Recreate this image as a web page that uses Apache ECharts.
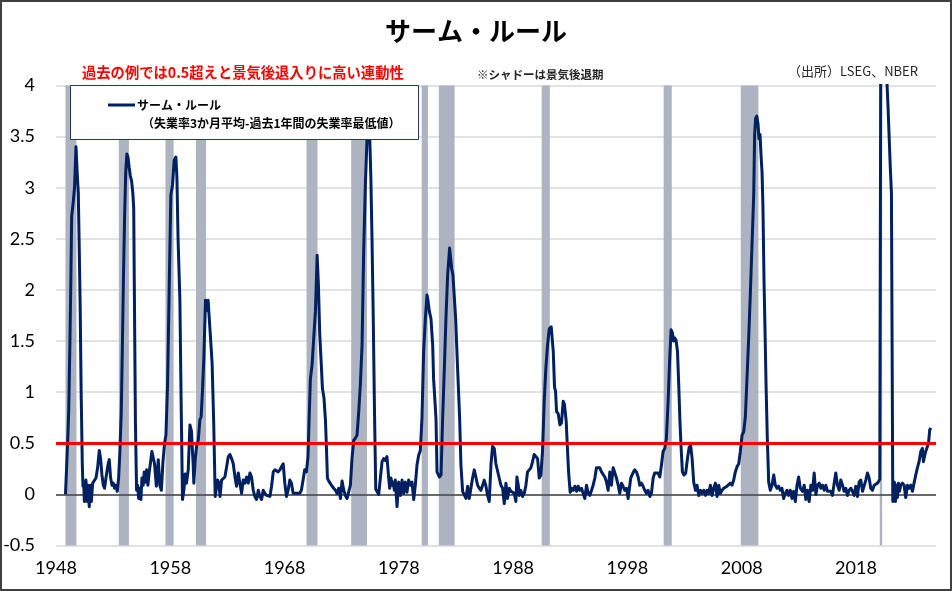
<!DOCTYPE html>
<html>
<head>
<meta charset="utf-8">
<script src="https://cdn.jsdelivr.net/npm/echarts@6/dist/echarts.min.js"></script>
<style>
html,body{margin:0;padding:0;background:#fff;}
#chart{width:952px;height:591px;}
</style>
</head>
<body>
<div id="chart"></div>
<script>
// Decimal-year dates of the readings
const dates = [
1948.83,1948.95,1949.05,1949.12,1949.22,1949.30,1949.37,1949.50,1949.62,1949.75,1949.85,1949.95,1950.05,1950.12,1950.20,1950.30,1950.36,
1950.42,1950.48,1950.56,1950.62,1950.71,1950.80,1950.91,1951.00,1951.09,1951.21,1951.35,1951.50,1951.64,1951.79,1951.90,1952.02,1952.14,1952.25,1952.37,1952.55,1952.66,1952.78,1952.90,1953.01,1953.13,1953.24,1953.36,1953.48,
1953.59,1953.71,1953.80,1953.90,1954.00,1954.10,1954.20,1954.30,1954.40,1954.50,1954.62,1954.72,1954.80,1954.87,1954.95,1955.05,
1955.14,1955.23,1955.34,1955.43,1955.52,1955.63,1955.72,1955.81,1955.93,1956.04,1956.16,1956.28,1956.39,1956.51,1956.62,1956.78,1956.95,1957.08,1957.22,1957.36,
1957.50,1957.62,1957.76,1957.91,1958.05,1958.20,1958.34,1958.49,1958.58,1958.68,1958.84,1958.95,1959.07,
1959.20,1959.30,1959.42,1959.57,1959.72,1959.85,1960.00,1960.06,1960.18,1960.30,1960.45,1960.59,1960.70,1960.82,1960.94,1961.08,1961.22,1961.31,1961.40,1961.55,1961.66,1961.80,1961.93,
1962.05,1962.14,1962.26,1962.35,1962.49,1962.64,1962.78,1962.93,1963.08,1963.22,1963.37,1963.51,1963.66,1963.80,1963.95,1964.09,1964.24,1964.38,1964.53,1964.68,1964.82,1964.97,
1965.11,1965.26,1965.40,1965.55,1965.70,1965.84,1965.99,1966.13,1966.28,1966.42,1966.57,1966.72,1966.86,1967.01,1967.15,1967.30,1967.44,1967.59,1967.73,1967.88,
1968.02,1968.17,1968.31,1968.46,1968.60,1968.75,1969.04,1969.33,1969.47,1969.62,1969.76,1969.91,
1970.05,1970.15,1970.26,1970.41,1970.55,1970.70,1970.85,1970.96,1971.08,1971.20,1971.31,1971.45,1971.58,1971.68,1971.75,
1971.87,1972.01,1972.16,1972.30,1972.45,1972.59,1972.74,1972.89,1973.03,1973.18,1973.32,1973.47,1973.61,1973.76,
1973.90,1974.05,1974.20,1974.34,1974.49,1974.63,1974.78,1974.92,1975.07,1975.22,1975.33,1975.45,1975.55,1975.65,1975.75,1975.87,1975.98,
1976.09,1976.24,1976.38,1976.53,1976.67,1976.82,1976.96,1977.11,1977.20,1977.31,1977.40,1977.49,1977.61,1977.69,1977.84,1977.98,
1978.13,1978.28,1978.42,1978.57,1978.71,1978.86,1979.00,1979.15,1979.30,1979.44,1979.59,1979.73,1979.88,
1980.02,1980.17,1980.32,1980.46,1980.52,1980.67,1980.81,1980.96,1981.04,1981.16,1981.25,1981.34,1981.54,1981.69,
1981.83,1981.98,1982.12,1982.27,1982.44,1982.62,1982.73,1982.85,1982.97,1983.08,1983.20,1983.32,1983.43,1983.58,
1983.73,1983.87,1984.02,1984.16,1984.31,1984.45,1984.60,1984.74,1984.89,1985.04,1985.18,1985.33,1985.47,1985.62,1985.76,1985.91,
1986.06,1986.20,1986.35,1986.49,1986.64,1986.78,1986.93,1987.08,1987.22,1987.37,1987.51,1987.66,1987.80,1987.95,
1988.10,1988.24,1988.33,1988.45,1988.53,1988.68,1988.82,1988.97,1989.12,1989.26,1989.41,1989.55,1989.70,1989.84,1989.99,
1990.14,1990.28,1990.43,1990.57,1990.72,1990.86,1991.01,1991.16,1991.33,1991.51,1991.62,1991.71,1991.80,1991.94,
1992.09,1992.23,1992.38,1992.49,1992.64,1992.75,1992.85,1992.99,
1993.11,1993.25,1993.40,1993.55,1993.69,1993.84,1993.98,1994.13,1994.27,1994.42,1994.57,1994.71,1994.86,
1995.00,1995.15,1995.29,1995.44,1995.58,1995.73,1995.88,1996.02,1996.17,1996.31,1996.46,1996.60,1996.75,1996.90,
1997.04,1997.19,1997.33,1997.48,1997.62,1997.77,1997.92,1998.06,1998.21,1998.29,1998.41,1998.53,1998.64,1998.79,1998.94,
1999.08,1999.23,1999.37,1999.52,1999.66,1999.81,1999.96,2000.10,2000.25,2000.39,2000.54,2000.68,2000.83,2000.98,
2001.12,2001.27,2001.41,2001.56,2001.70,2001.82,2001.94,2002.03,2002.14,2002.25,2002.38,2002.49,2002.60,2002.70,2002.81,2002.95,
2003.10,2003.25,2003.40,2003.53,2003.66,2003.80,2003.95,2004.09,2004.24,2004.39,2004.53,2004.68,2004.82,2004.97,
2005.11,2005.26,2005.41,2005.55,2005.70,2005.84,2005.99,2006.13,2006.28,2006.42,2006.57,2006.72,2006.86,
2007.01,2007.15,2007.30,2007.44,2007.59,2007.74,2007.88,2008.03,2008.17,2008.32,2008.46,2008.61,2008.76,2008.90,
2009.05,2009.13,2009.22,2009.32,2009.43,2009.51,2009.60,2009.70,2009.78,2009.86,2009.95,2010.04,2010.13,2010.24,2010.36,2010.50,
2010.65,2010.80,2010.94,2011.09,2011.23,2011.38,2011.52,2011.67,2011.82,2011.96,2012.11,2012.25,2012.40,2012.54,2012.69,2012.84,2012.98,
2013.13,2013.32,2013.47,2013.61,2013.76,2013.90,2014.05,2014.20,2014.34,2014.49,2014.63,2014.78,2014.92,
2015.07,2015.22,2015.36,2015.51,2015.65,2015.80,2015.94,2016.09,2016.23,2016.38,2016.53,2016.67,2016.82,2016.96,
2017.11,2017.25,2017.40,2017.55,2017.69,2017.84,2017.98,2018.13,2018.27,2018.42,2018.57,2018.71,2018.86,
2019.00,2019.15,2019.29,2019.44,2019.59,2019.73,2019.88,2020.00,2020.08,
2020.17,2020.25,2020.33,2020.42,2020.50,2020.58,2020.70,2020.80,2020.90,2021.00,2021.10,2021.22,
2021.36,2021.45,2021.54,2021.63,2021.71,2021.80,2021.92,2022.06,2022.21,2022.35,2022.50,2022.65,2022.79,2022.94,
2023.08,2023.23,2023.37,2023.52,2023.67,2023.81,2023.90,2024.01,2024.10,2024.19,2024.28,2024.36,2024.45,2024.54
];
// Sahm rule values (pt)
const sahm = [
0.00,0.00,0.60,0.85,1.50,2.10,2.72,2.85,3.00,3.40,3.15,2.95,2.30,1.80,1.00,0.30,0.08,
0.12,-0.07,0.09,0.14,-0.07,0.09,-0.12,0.09,-0.07,0.11,0.11,0.16,0.26,0.43,0.35,0.19,0.09,0.06,0.16,0.29,0.34,0.16,0.09,0.11,0.06,0.09,0.03,0.16,
0.42,0.80,1.40,2.10,2.70,3.15,3.33,3.30,3.20,3.12,3.06,2.95,2.80,1.80,0.70,0.04,
0.09,-0.04,0.06,-0.05,0.16,0.09,0.22,0.12,0.24,0.09,0.22,0.32,0.42,0.43,0.30,0.08,0.34,0.09,0.04,0.32,
0.50,0.58,1.07,2.05,2.93,3.03,3.27,3.30,3.10,2.50,1.90,0.90,-0.05,
0.05,0.20,0.11,0.24,0.68,0.62,0.30,0.11,0.34,0.47,0.53,0.73,0.76,1.02,1.35,1.90,1.80,1.90,1.74,1.48,1.28,0.70,-0.02,
-0.02,0.14,0.11,-0.02,0.14,0.14,0.17,0.27,0.37,0.39,0.35,0.30,0.17,0.08,0.21,0.11,0.01,0.14,0.11,0.17,0.11,0.21,
0.17,0.04,-0.02,-0.05,0.04,-0.02,-0.05,0.04,0.01,-0.01,-0.02,-0.02,0.08,0.22,0.24,0.24,0.22,0.24,0.27,0.30,
0.11,-0.02,0.04,0.14,0.11,0.01,0.01,0.01,0.04,0.14,0.24,0.22,
0.37,0.74,1.13,1.27,1.53,1.79,2.34,2.05,1.56,1.30,1.04,0.94,0.72,0.40,0.16,
0.13,0.13,0.08,0.06,0.04,0.01,0.06,-0.04,0.13,0.04,-0.01,-0.04,-0.05,0.09,
0.35,0.53,0.55,0.58,0.81,1.07,1.46,2.37,3.03,3.50,3.70,3.50,3.10,2.50,1.80,0.80,0.05,
0.05,0.00,0.16,0.32,0.35,0.33,0.37,0.16,0.06,0.16,0.09,0.12,0.04,0.14,-0.12,0.12,
-0.01,0.14,0.01,0.12,0.02,0.14,0.09,0.12,-0.05,0.09,0.29,0.38,0.43,
0.74,1.40,1.72,1.95,1.92,1.79,1.72,1.46,1.13,1.13,0.74,0.22,0.17,0.19,
0.74,1.23,1.72,2.15,2.41,2.21,2.15,2.15,1.72,1.40,1.07,0.74,0.29,0.03,
0.04,-0.04,0.08,-0.04,-0.05,0.16,0.24,0.17,0.09,0.06,0.04,0.09,0.14,0.08,-0.01,-0.07,
0.29,0.47,0.45,0.30,0.30,0.16,0.09,0.06,-0.09,0.11,-0.04,0.06,0.03,0.04,
0.01,-0.07,0.17,0.09,-0.01,0.04,-0.02,0.01,0.09,0.22,0.24,0.26,0.32,0.39,0.40,
0.35,0.16,0.19,0.42,0.91,1.23,1.46,1.62,1.64,1.40,1.05,1.01,0.81,0.79,
0.68,0.70,0.91,0.88,0.72,0.45,0.22,0.02,
0.06,0.04,0.08,0.03,0.08,0.04,0.06,0.01,-0.04,0.09,0.01,-0.01,0.04,
0.09,0.16,0.26,0.27,0.26,0.22,0.22,0.17,0.12,0.04,0.22,0.09,0.26,0.27,
0.16,0.09,0.01,0.11,0.08,0.04,0.06,-0.04,-0.05,0.16,0.19,0.22,0.24,0.22,0.17,
0.09,0.11,0.08,0.04,0.01,0.04,-0.02,0.01,0.16,0.21,0.22,0.21,0.17,0.29,
0.42,0.45,0.55,0.91,1.33,1.61,1.58,1.50,1.53,1.51,1.40,1.07,0.70,0.45,0.22,0.19,
0.21,0.35,0.46,0.48,0.35,0.12,0.04,0.09,-0.01,0.04,0.01,0.04,-0.01,0.04,
0.01,0.09,-0.01,0.06,0.11,-0.02,0.09,0.01,0.04,0.06,0.06,0.08,0.09,
0.11,0.09,0.14,0.22,0.27,0.30,0.42,0.58,0.61,0.76,1.13,1.53,1.98,2.44,
2.93,3.52,3.68,3.70,3.62,3.48,3.52,3.30,3.15,2.80,2.10,1.60,1.07,0.55,0.12,0.04,
0.09,0.19,0.09,0.06,0.08,0.04,0.06,-0.04,0.01,0.04,-0.01,0.04,-0.04,0.03,-0.07,0.09,0.17,
0.06,0.03,0.09,-0.05,0.04,-0.07,0.09,0.04,0.21,0.00,0.09,0.11,0.06,
0.09,0.04,0.09,0.03,0.04,0.03,-0.01,0.11,0.21,0.09,0.04,0.14,0.09,0.03,
0.06,-0.01,0.04,0.06,0.03,-0.01,0.08,-0.02,0.12,0.14,0.03,0.04,0.14,
0.21,0.16,0.06,0.04,0.09,0.09,0.11,0.13,0.15,
4.50,7.20,9.50,7.90,6.30,5.00,4.05,3.80,3.50,3.20,2.95,-0.07,
0.12,-0.07,0.09,-0.03,0.11,0.03,0.09,0.11,0.09,-0.03,0.09,0.06,0.09,0.03,
0.11,0.19,0.26,0.32,0.42,0.45,0.32,0.38,0.42,0.42,0.48,0.52,0.63,0.65
];
// NBER recessions (peak month start, trough month middle)
const recessionStart = [1948.83,1953.50,1957.58,1960.25,1969.92,1973.83,1980.00,1981.50,1990.50,2001.17,2007.92,2020.08];
const recessionEnd   = [1949.79,1954.38,1958.29,1961.13,1970.88,1975.21,1980.54,1982.88,1991.21,2001.88,2009.46,2020.29];
const xTickLabels = ['1948','1958','1968','1978','1988','1998','2008','2018'];
const threshold = [0.5];
const zeroLine = [0];

const pts = dates.map((d, i) => [d, sahm[i]]);
const areas = recessionStart.map((s, i) => [{xAxis: s}, {xAxis: recessionEnd[i]}]);

const chart = echarts.init(document.getElementById('chart'), null, {renderer: 'canvas'});
const JP = '"Noto Sans CJK JP", sans-serif';
const NUM = 'Lato, "Open Sans", sans-serif';

chart.setOption({
  animation: false,
  backgroundColor: '#ffffff',
  grid: {left: 56, right: 16, top: 85.5, bottom: 45.5},
  xAxis: {
    type: 'value', min: 1948, max: 2025, interval: 10,
    axisLine: {show: false}, axisTick: {show: false}, splitLine: {show: false},
    axisLabel: {
      fontFamily: NUM, fontSize: 18, color: '#000', margin: 14,
      formatter: v => xTickLabels.includes(String(v)) ? String(v) : ''
    }
  },
  yAxis: {
    type: 'value', min: -0.5, max: 4, interval: 0.5,
    axisLine: {show: false}, axisTick: {show: false},
    splitLine: {lineStyle: {color: '#d9d9d9', width: 1.5}},
    axisLabel: {fontFamily: NUM, fontSize: 18, color: '#000', margin: 21}
  },
  series: [
    {
      type: 'line', data: pts, symbol: 'none', silent: true, z: 1,
      lineStyle: {opacity: 0},
      markArea: {silent: true, z: 1, itemStyle: {color: '#aeb3c1'}, data: areas},
      markLine: {silent: true, z: 1.5, symbol: 'none', label: {show: false},
        lineStyle: {color: '#404040', width: 1.5, type: 'solid'},
        data: zeroLine.map(y => ({yAxis: y}))}
    },
    {
      name: 'サーム・ルール', type: 'line', data: pts, symbol: 'none', showSymbol: false,
      clip: true, z: 3,
      lineStyle: {color: '#002060', width: 3, join: 'round'},
      markLine: {silent: true, z: 6, symbol: 'none', label: {show: false},
        lineStyle: {color: '#ff0000', width: 3, type: 'solid'},
        data: threshold.map(y => ({yAxis: y}))}
    }
  ],
  graphic: {
    elements: [
      {type: 'text', x: 476, y: 31, z: 100,
        style: {text: 'サーム・ルール', font: 'bold 26px ' + JP, fill: '#000', align: 'center', verticalAlign: 'middle'}},
      {type: 'text', x: 82, y: 73, z: 100,
        style: {text: '過去の例では0.5超えと景気後退入りに高い連動性', font: 'bold 14.3px ' + JP, fill: '#ff0000', align: 'left', verticalAlign: 'middle'}},
      {type: 'text', x: 477, y: 75, z: 100,
        style: {text: '※シャドーは景気後退期', font: 'bold 11.5px ' + JP, fill: '#262626', align: 'left', verticalAlign: 'middle'}},
      {type: 'text', x: 918, y: 71, z: 100,
        style: {text: '（出所）LSEG、NBER', font: '13px ' + JP, fill: '#262626', align: 'right', verticalAlign: 'middle'}},
      {type: 'rect', z: 100, shape: {x: 70.5, y: 85.5, width: 348, height: 54},
        style: {fill: '#ffffff', stroke: '#1f3864', lineWidth: 1}},
      {type: 'line', z: 101, shape: {x1: 108, y1: 105, x2: 135, y2: 105},
        style: {stroke: '#002060', lineWidth: 3}},
      {type: 'text', x: 137, y: 105, z: 101,
        style: {text: 'サーム・ルール', font: 'bold 12px ' + JP, fill: '#000', align: 'left', verticalAlign: 'middle'}},
      {type: 'text', x: 142, y: 123, z: 101,
        style: {text: '（失業率3か月平均-過去1年間の失業率最低値）', font: 'bold 12px ' + JP, fill: '#000', align: 'left', verticalAlign: 'middle'}},
      {type: 'rect', z: 200, shape: {x: 1, y: 1, width: 950, height: 589},
        style: {fill: 'none', stroke: '#404040', lineWidth: 2}}
    ]
  }
});
</script>
</body>
</html>
